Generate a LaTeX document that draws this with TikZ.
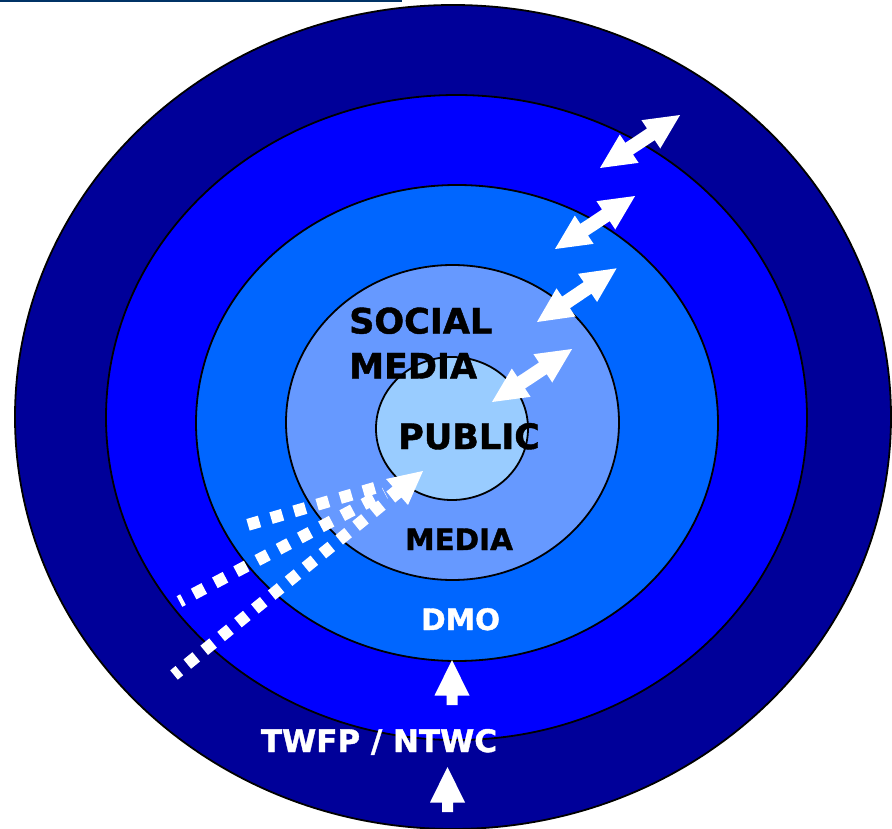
\documentclass[tikz,border=0pt]{standalone}
\usepackage{fontspec}
\setmainfont{DejaVu Sans}[BoldFeatures={FakeBold=1.2}]
\definecolor{ringA}{RGB}{0,0,153}
\definecolor{ringB}{RGB}{0,0,255}
\definecolor{ringC}{RGB}{0,102,255}
\definecolor{ringD}{RGB}{102,153,255}
\definecolor{ringE}{RGB}{153,204,255}
\definecolor{topbar}{RGB}{0,51,102}
\tikzset{
  ring/.style={draw=black, line width=1.8pt},
  lbl/.style={inner sep=0pt, font=\bfseries, anchor=base west},
  dots/.style={draw=white, line width=12pt, line cap=butt},
  dblarrow/.pic={\fill[white] (0,0) -- (35,17) -- (35,7) -- (61,7) -- (61,17) -- (96,0) -- (61,-17) -- (61,-7) -- (35,-7) -- (35,-17) -- cycle;},
  uparrow/.pic={\fill[white] (0,0) -- (17.5,35.5) -- (5.5,35.5) -- (5.5,45) -- (-5.5,45) -- (-5.5,35.5) -- (-17.5,35.5) -- cycle;}
}
\begin{document}
\begin{tikzpicture}[x=1pt,y=-1pt]
\useasboundingbox (0,0) rectangle (892,829);
\clip (0,0) rectangle (892,829);
\fill[white] (0,0) rectangle (892,829);
\fill[topbar] (0,0) rectangle (402,2.5);
% rings
\draw[ring, fill=ringA] (453,417) ellipse [x radius=438, y radius=412];
\draw[ring, fill=ringB] (456.5,417.5) ellipse [x radius=350.5, y radius=322.5];
\draw[ring, fill=ringC] (457,423) ellipse [x radius=261, y radius=238];
\draw[ring, fill=ringD] (452.5,422.5) ellipse [x radius=166.5, y radius=157.5];
\draw[ring, fill=ringE] (452,428.5) ellipse [x radius=76, y radius=71.5];
% labels
\node[lbl, font=\bfseries\fontsize{35}{35}\selectfont] (social) at (349,333.5) {SOCIAL};
\node[lbl, font=\bfseries\fontsize{35}{35}\selectfont] (smedia) at (349,378.5) {MEDIA};
\node[lbl, font=\bfseries\fontsize{35}{35}\selectfont] (public) at (398,449) {PUBLIC};
\node[lbl, font=\bfseries\fontsize{29.5}{29.5}\selectfont] (media) at (405,550) {MEDIA};
\node[lbl, font=\bfseries\fontsize{29.5}{29.5}\selectfont, text=white] (dmo) at (421,630) {DMO};
\node[lbl, anchor=base, font=\bfseries\fontsize{31}{31}\selectfont, text=white] (twfp) at (379,752) {TWFP / NTWC};
% double arrows
\coordinate (da1) at (600,168);
\coordinate (da2) at (555,249);
\coordinate (da3) at (537,322);
\coordinate (da4) at (492,402);
\pic[rotate=33.5] at (da1) {dblarrow};
\pic[rotate=33.5] at (da2) {dblarrow};
\pic[rotate=34] at (da3) {dblarrow};
\pic[rotate=33.5] at (da4) {dblarrow};
% up arrows
\coordinate (ua1) at (452,660);
\coordinate (ua2) at (447.5,767);
\pic at (ua1) {uparrow};
\pic at (ua2) {uparrow};
% dotted converging arrows
\coordinate (r1s) at (248,524.8);
\coordinate (r1e) at (378,487);
\coordinate (r2s) at (179.5,601.5);
\coordinate (r2e) at (385,493);
\coordinate (r3s) at (174,675);
\coordinate (r3e) at (388,500);
\draw[dots, dash pattern=on 12pt off 12pt] (r1s) -- (r1e);
\draw[dots, dash pattern=on 12pt off 12pt, dash phase=8pt] (r2s) -- (r2e);
\draw[dots, dash pattern=on 11.5pt off 10.3pt, dash phase=4.6pt] (r3s) -- (r3e);
\coordinate (tip) at (423,471);
\fill[white] (tip) -- (408,505) -- (401.4,497.5) -- (395.2,502.5) -- (386.4,491.5) -- (392.6,486.5) -- (386,479) -- cycle;
\end{tikzpicture}
\end{document}
